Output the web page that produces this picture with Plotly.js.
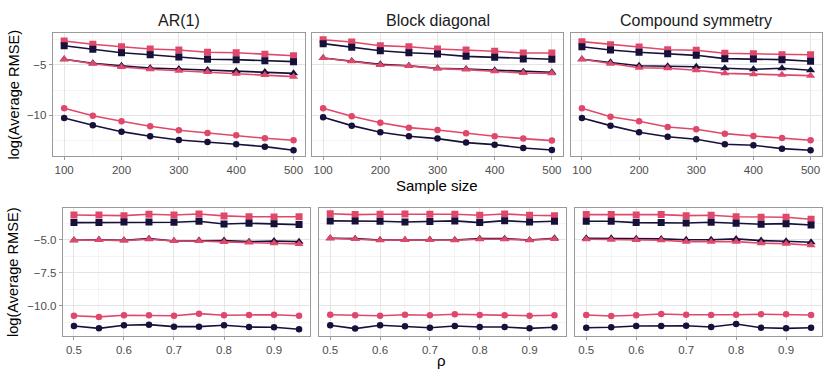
<!DOCTYPE html>
<html>
<head>
<meta charset="utf-8">
<script src="https://cdn.plot.ly/plotly-3.0.1.min.js"></script>
<style>
  body { margin: 0; background: #fff; }
  #chart { width: 830px; height: 380px; }
</style>
</head>
<body>
<div id="chart"></div>
<script>
// x values
const sampleSizes = [100, 150, 200, 250, 300, 350, 400, 450, 500];
const rhoValues = [0.5, 0.55, 0.6, 0.65, 0.7, 0.75, 0.8, 0.85, 0.9, 0.95];

const structures = ["AR(1)", "Block diagonal", "Compound symmetry"];

// top row: log(Average RMSE) vs sample size
// red squares / navy squares / navy triangles / red triangles / red circles / navy circles
const arN_redSq   = [-2.61, -2.94, -3.18, -3.41, -3.51, -3.74, -3.78, -3.94, -4.08];
const arN_navySq  = [-3.08, -3.44, -3.78, -3.98, -4.20, -4.43, -4.47, -4.57, -4.67];
const arN_navyTri = [-4.43, -4.83, -5.07, -5.30, -5.40, -5.50, -5.60, -5.70, -5.83];
const arN_redTri  = [-4.43, -4.87, -5.20, -5.43, -5.57, -5.70, -5.86, -5.99, -6.16];
const arN_redCir  = [-9.30, -10.04, -10.60, -11.09, -11.49, -11.76, -11.99, -12.29, -12.49];
const arN_navyCir = [-10.27, -10.99, -11.63, -12.09, -12.46, -12.65, -12.88, -13.12, -13.48];

const bdN_redSq   = [-2.49, -2.71, -3.08, -3.18, -3.41, -3.51, -3.64, -3.81, -3.81];
const bdN_navySq  = [-2.88, -3.24, -3.58, -3.78, -3.91, -4.14, -4.24, -4.40, -4.43];
const bdN_navyTri = [-4.30, -4.60, -4.93, -5.07, -5.33, -5.40, -5.53, -5.67, -5.73];
const bdN_redTri  = [-4.30, -4.63, -5.00, -5.10, -5.36, -5.46, -5.63, -5.80, -5.83];
const bdN_redCir  = [-9.30, -10.10, -10.74, -11.23, -11.46, -11.79, -12.09, -12.32, -12.52];
const bdN_navyCir = [-10.20, -11.03, -11.69, -12.09, -12.32, -12.72, -12.92, -13.25, -13.45];

const csN_redSq   = [-2.68, -2.98, -3.21, -3.48, -3.54, -3.84, -3.88, -3.98, -3.98];
const csN_navySq  = [-3.18, -3.51, -3.74, -3.88, -4.04, -4.37, -4.40, -4.47, -4.63];
const csN_navyTri = [-4.43, -4.73, -5.07, -5.13, -5.17, -5.33, -5.43, -5.33, -5.53];
const csN_redTri  = [-4.43, -4.87, -5.27, -5.33, -5.53, -5.83, -5.93, -5.96, -6.06];
const csN_redCir  = [-9.30, -10.14, -10.60, -11.16, -11.39, -11.83, -12.06, -12.26, -12.49];
const csN_navyCir = [-10.27, -11.03, -11.69, -12.13, -12.39, -12.88, -12.98, -13.32, -13.48];

// bottom row: log(Average RMSE) vs rho
const arR_redSq   = [-3.10, -3.10, -3.15, -3.04, -3.10, -3.02, -3.17, -3.23, -3.25, -3.23];
const arR_navySq  = [-3.68, -3.68, -3.63, -3.63, -3.65, -3.58, -3.78, -3.73, -3.76, -3.83];
const arR_navyTri = [-5.02, -4.98, -5.02, -4.90, -5.08, -5.05, -5.05, -5.13, -5.08, -5.13];
const arR_redTri  = [-5.02, -5.00, -5.05, -4.95, -5.08, -5.08, -5.15, -5.20, -5.25, -5.30];
const arR_redCir  = [-10.77, -10.86, -10.73, -10.73, -10.77, -10.61, -10.73, -10.71, -10.69, -10.77];
const arR_navyCir = [-11.55, -11.73, -11.50, -11.45, -11.60, -11.60, -11.50, -11.63, -11.65, -11.80];

const bdR_redSq   = [-3.00, -3.07, -3.04, -3.02, -3.04, -3.04, -3.12, -3.02, -3.12, -3.15];
const bdR_navySq  = [-3.55, -3.55, -3.58, -3.63, -3.60, -3.55, -3.68, -3.53, -3.63, -3.58];
const bdR_navyTri = [-4.87, -4.90, -5.00, -5.00, -4.98, -5.00, -4.90, -4.90, -5.00, -4.87];
const bdR_redTri  = [-4.87, -4.92, -5.02, -5.00, -5.00, -5.02, -4.95, -4.95, -5.02, -4.92];
const bdR_redCir  = [-10.69, -10.73, -10.77, -10.69, -10.73, -10.66, -10.71, -10.73, -10.77, -10.73];
const bdR_navyCir = [-11.50, -11.75, -11.50, -11.57, -11.68, -11.55, -11.63, -11.63, -11.73, -11.65];

const csR_redSq   = [-3.07, -3.07, -3.10, -3.07, -3.15, -3.12, -3.23, -3.27, -3.27, -3.42];
const csR_navySq  = [-3.58, -3.58, -3.68, -3.68, -3.71, -3.65, -3.73, -3.80, -3.76, -3.86];
const csR_navyTri = [-4.87, -4.87, -4.90, -4.92, -4.98, -4.98, -4.92, -5.05, -5.10, -5.18];
const csR_redTri  = [-4.95, -4.98, -5.00, -5.02, -5.13, -5.13, -5.13, -5.25, -5.28, -5.40];
const csR_redCir  = [-10.71, -10.79, -10.73, -10.64, -10.69, -10.71, -10.69, -10.66, -10.66, -10.71];
const csR_navyCir = [-11.68, -11.65, -11.55, -11.55, -11.53, -11.63, -11.40, -11.68, -11.73, -11.68];

const topTickVals = [-10, -5];
const topTickText = ["\u221210", "\u22125"];
const botTickVals = [-10, -7.5, -5];
const botTickText = ["\u221210.0", "\u22127.5", "\u22125.0"];

const RED = "#E0486B";
const NAVY = "#17103A";

function panelTraces(x, sets, axNum) {
  // sets: [redSq, navySq, navyTri, redTri, redCir, navyCir]
  const styles = [
    [RED, "square", 7], [NAVY, "square", 7],
    [NAVY, "triangle-up", 8], [RED, "triangle-up", 8],
    [RED, "circle", 6.5], [NAVY, "circle", 6.5]
  ];
  const suffix = axNum === 1 ? "" : String(axNum);
  return sets.map((y, i) => ({
    x: x, y: y,
    type: "scatter", mode: "lines+markers",
    xaxis: "x" + suffix, yaxis: "y" + suffix,
    line: { color: styles[i][0], width: 1.6 },
    marker: { color: styles[i][0], symbol: styles[i][1], size: styles[i][2] },
    showlegend: false, hoverinfo: "x+y"
  }));
}

const data = [].concat(
  panelTraces(sampleSizes, [arN_redSq, arN_navySq, arN_navyTri, arN_redTri, arN_redCir, arN_navyCir], 1),
  panelTraces(sampleSizes, [bdN_redSq, bdN_navySq, bdN_navyTri, bdN_redTri, bdN_redCir, bdN_navyCir], 2),
  panelTraces(sampleSizes, [csN_redSq, csN_navySq, csN_navyTri, csN_redTri, csN_redCir, csN_navyCir], 3),
  panelTraces(rhoValues, [arR_redSq, arR_navySq, arR_navyTri, arR_redTri, arR_redCir, arR_navyCir], 4),
  panelTraces(rhoValues, [bdR_redSq, bdR_navySq, bdR_navyTri, bdR_redTri, bdR_redCir, bdR_navyCir], 5),
  panelTraces(rhoValues, [csR_redSq, csR_navySq, csR_navyTri, csR_redTri, csR_redCir, csR_navyCir], 6)
);

const W = 830, H = 380;
const px = v => v / W;
const py = v => 1 - v / H;

const topCols = [[52.7, 305], [311.7, 563.3], [570.5, 822]];
const botCols = [[62.7, 310.3], [319, 565.7], [575, 822.3]];
const topRow = [py(156), py(33)];
const botRow = [py(335.7), py(208.3)];

const FONT = "Liberation Sans, Arial, sans-serif";
const tickFont = { family: FONT, size: 11.5, color: "#4d4d4d" };
const gridCol = "#e4e4e4";

function xAxis(domain, range, dtick, anchor) {
  return {
    domain: domain, range: range, anchor: anchor,
    dtick: dtick, tick0: 0,
    showline: true, mirror: true, linecolor: "#9a9a9a", linewidth: 1,
    showgrid: true, gridcolor: gridCol, gridwidth: 1,
    minor: { dtick: dtick / 2, showgrid: true, gridcolor: "#f0f0f0", gridwidth: 0.7, ticks: "" },
    ticks: "outside", ticklen: 3, tickcolor: "#9a9a9a",
    tickfont: tickFont, zeroline: false
  };
}

function yAxis(domain, range, vals, text, minorVals, anchor, showLabels) {
  return {
    domain: domain, range: range, anchor: anchor,
    tickmode: "array", tickvals: vals, ticktext: text,
    showticklabels: showLabels,
    showline: true, mirror: true, linecolor: "#9a9a9a", linewidth: 1,
    showgrid: true, gridcolor: gridCol, gridwidth: 1,
    minor: { tickmode: "array", tickvals: minorVals, showgrid: true, gridcolor: "#f0f0f0", gridwidth: 0.7, ticks: "" },
    ticks: showLabels ? "outside" : "", ticklen: 3, tickcolor: "#9a9a9a",
    tickfont: tickFont, zeroline: false
  };
}

const topRange = [-14.05, -1.82];
const botRange = [-12.29, -2.59];
const nRange = [80, 520];
const rRange = [0.4775, 0.9725];
const topMinor = [-12.5, -7.5, -2.5];
const botMinor = [-11.25, -8.75, -6.25, -3.75];

const layout = {
  width: W, height: H,
  margin: { l: 0, r: 0, t: 0, b: 0 },
  paper_bgcolor: "#ffffff", plot_bgcolor: "#ffffff",
  font: { family: FONT },
  showlegend: false,
  xaxis:  xAxis([px(topCols[0][0]), px(topCols[0][1])], nRange, 100, "y"),
  xaxis2: xAxis([px(topCols[1][0]), px(topCols[1][1])], nRange, 100, "y2"),
  xaxis3: xAxis([px(topCols[2][0]), px(topCols[2][1])], nRange, 100, "y3"),
  xaxis4: xAxis([px(botCols[0][0]), px(botCols[0][1])], rRange, 0.1, "y4"),
  xaxis5: xAxis([px(botCols[1][0]), px(botCols[1][1])], rRange, 0.1, "y5"),
  xaxis6: xAxis([px(botCols[2][0]), px(botCols[2][1])], rRange, 0.1, "y6"),
  yaxis:  yAxis(topRow, topRange, topTickVals, topTickText, topMinor, "x", true),
  yaxis2: yAxis(topRow, topRange, topTickVals, topTickText, topMinor, "x2", false),
  yaxis3: yAxis(topRow, topRange, topTickVals, topTickText, topMinor, "x3", false),
  yaxis4: yAxis(botRow, botRange, botTickVals, botTickText, botMinor, "x4", true),
  yaxis5: yAxis(botRow, botRange, botTickVals, botTickText, botMinor, "x5", false),
  yaxis6: yAxis(botRow, botRange, botTickVals, botTickText, botMinor, "x6", false),
  annotations: [
    ...structures.map((s, i) => ({
      text: s, xref: "paper", yref: "paper",
      x: px((topCols[i][0] + topCols[i][1]) / 2), y: py(21),
      xanchor: "center", yanchor: "middle", showarrow: false,
      font: { size: 16, color: "#1a1a1a" }
    })),
    { text: "Sample size", xref: "paper", yref: "paper", x: px(437), y: py(185),
      xanchor: "center", yanchor: "middle", showarrow: false, font: { size: 15, color: "#000" } },
    { text: "\u03c1", xref: "paper", yref: "paper", x: px(441), y: py(360),
      xanchor: "center", yanchor: "middle", showarrow: false, font: { size: 15, color: "#000" } },
    { text: "log(Average RMSE)", xref: "paper", yref: "paper", x: px(13), y: py(94.5),
      xanchor: "center", yanchor: "middle", textangle: -90, showarrow: false, font: { size: 14.6, color: "#000" } },
    { text: "log(Average RMSE)", xref: "paper", yref: "paper", x: px(13), y: py(272),
      xanchor: "center", yanchor: "middle", textangle: -90, showarrow: false, font: { size: 14.6, color: "#000" } }
  ]
};

Plotly.newPlot("chart", data, layout, { displayModeBar: false, staticPlot: true });
</script>
</body>
</html>
